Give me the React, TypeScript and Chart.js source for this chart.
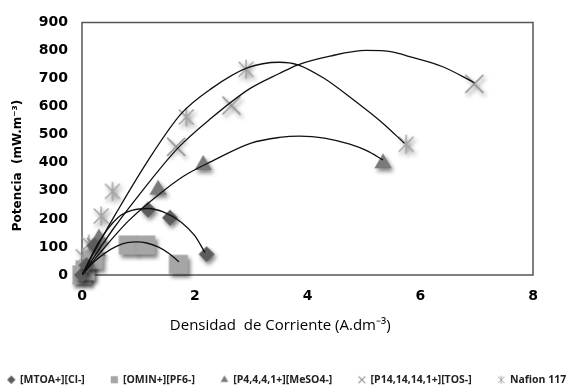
import React, { useEffect, useRef } from "react";
import { Chart, registerables } from "chart.js";

Chart.register(...registerables);

// ---------- data ----------
const seriesNames = [
  "[MTOA+][Cl-]",
  "[OMIN+][PF6-]",
  "[P4,4,4,1+][MeSO4-]",
  "[P14,14,14,1+][TOS-]",
  "Nafion 117",
];

const xTickStep = 2;
const xMin = 0;
const xMax = 8;
const yTickStep = 100;
const yMin = 0;
const yMax = 900;

// markers
const mtoaX = [0, 0.08, 0.22, 1.17, 1.56, 2.21];
const mtoaY = [0, 35, 105, 233, 204, 74];

const ominX = [0, 0.06, 0.2, 0.82, 1.13, 1.71];
const ominY = [0, 15, 55, 107, 107, 38];

const p444X = [0, 0.1, 0.3, 1.35, 2.15, 5.34];
const p444Y = [0, 40, 130, 304, 392, 398];

const tosX = [0, 0.05, 0.25, 1.67, 2.65, 6.96];
const tosY = [0, 20, 100, 457, 604, 681];

const nafionX = [0, 0.02, 0.12, 0.34, 0.54, 1.85, 2.91, 5.75];
const nafionY = [0, 65, 110, 210, 298, 563, 733, 466];

// trend lines
const mtoaTrendX = [0, 0.3, 0.64, 0.9, 1.17, 1.45, 1.76, 2.0, 2.18];
const mtoaTrendY = [0, 118, 205, 231, 237, 224, 188, 140, 80];

const ominTrendX = [0, 0.2, 0.4, 0.6, 0.8, 0.97, 1.15, 1.35, 1.55, 1.72];
const ominTrendY = [0, 44, 77, 101, 115, 118, 114, 100, 76, 47];

const p444TrendX = [0, 0.4, 0.82, 1.32, 1.8, 2.3, 3.0, 3.5, 3.86, 4.3, 4.75, 5.05, 5.34];
const p444TrendY = [0, 98, 192, 280, 352, 405, 470, 490, 495, 488, 466, 443, 410];

const tosTrendX = [0, 0.55, 1.0, 1.7, 2.3, 2.97, 3.5, 3.83, 4.4, 5.04, 5.5, 5.81, 6.4, 6.96];
const tosTrendY = [0, 163, 282, 452, 560, 663, 718, 749, 780, 800, 795, 778, 742, 685];

const nafionTrendX = [0, 0.31, 0.61, 1.14, 1.76, 2.3, 2.93, 3.5, 3.83, 4.3, 4.75, 5.34, 5.72];
const nafionTrendY = [0, 116, 222, 398, 575, 665, 738, 758, 749, 700, 634, 540, 469];

// ---------- helpers ----------
const pts = (xs: number[], ys: number[]) => xs.map((x, i) => ({ x, y: ys[i] }));

type Shape = "diamond" | "square" | "triangle" | "cross" | "star";

// marker glyph drawn on a small canvas (with a soft drop shadow) and used as pointStyle
function makeMarker(shape: Shape, color: string, size: number, withShadow: boolean) {
  const S = withShadow ? 34 : Math.ceil(size * 2 + 3);
  const c = document.createElement("canvas");
  c.width = S;
  c.height = S;
  const g = c.getContext("2d")!;
  const m = S / 2;
  if (withShadow) {
    g.shadowColor = "rgba(0,0,0,0.5)";
    g.shadowBlur = 4;
    g.shadowOffsetX = 2;
    g.shadowOffsetY = 3;
  }
  g.fillStyle = color;
  g.strokeStyle = color;
  g.beginPath();
  if (shape === "diamond") {
    g.moveTo(m, m - size);
    g.lineTo(m + size, m);
    g.lineTo(m, m + size);
    g.lineTo(m - size, m);
    g.closePath();
    g.fill();
  } else if (shape === "square") {
    g.rect(m - size, m - size, size * 2, size * 2);
    g.fill();
  } else if (shape === "triangle") {
    const h = size * Math.sqrt(3) / 2;
    g.moveTo(m, m - size);
    g.lineTo(m + h, m + size / 2);
    g.lineTo(m - h, m + size / 2);
    g.closePath();
    g.fill();
  } else if (shape === "cross") {
    g.lineWidth = withShadow ? 1.6 : 1.1;
    g.moveTo(m - size, m - size);
    g.lineTo(m + size, m + size);
    g.moveTo(m + size, m - size);
    g.lineTo(m - size, m + size);
    g.stroke();
  } else {
    g.lineWidth = withShadow ? 1.5 : 1;
    const d = size * 0.78;
    g.moveTo(m - d, m - d);
    g.lineTo(m + d, m + d);
    g.moveTo(m + d, m - d);
    g.lineTo(m - d, m + d);
    g.moveTo(m, m - size);
    g.lineTo(m, m + size);
    g.stroke();
  }
  return c;
}

const NB = "\u00A0";

export default function App() {
  const ref = useRef<HTMLCanvasElement | null>(null);

  useEffect(() => {
    if (!ref.current) return;

    const colors = ["#5c5c5c", "#a6a6a6", "#7a7a7a", "#8c8c8c", "#a3a3a3"];
    const shapes: Shape[] = ["diamond", "square", "triangle", "cross", "star"];
    const bigSizes = [8, 9.5, 10, 9, 9.5];
    const smallSizes = [4.2, 3.6, 4.4, 3.4, 4.2];

    const bigMarkers = shapes.map((s, i) => makeMarker(s, colors[i], bigSizes[i], true));
    const smallMarkers = shapes.map((s, i) => makeMarker(s, colors[i], smallSizes[i], false));

    const scatter = (i: number, xs: number[], ys: number[]) => ({
      label: seriesNames[i],
      data: pts(xs, ys),
      pointStyle: bigMarkers[i],
      pointRadius: 10,
      pointHoverRadius: 10,
      backgroundColor: colors[i],
      borderColor: colors[i],
      showLine: false,
      clip: false as any,
      order: 2,
    });

    const trend = (name: string, xs: number[], ys: number[]) => ({
      label: name,
      data: pts(xs, ys),
      showLine: true,
      pointRadius: 0,
      pointHoverRadius: 0,
      borderColor: "#111",
      borderWidth: 1.3,
      cubicInterpolationMode: "monotone" as const,
      fill: false,
      order: 1,
    });

    // plot-area frame traced along the axis limits
    const frame = {
      label: "frame",
      data: [
        { x: xMin, y: yMin },
        { x: xMax, y: yMin },
        { x: xMax, y: yMax },
        { x: xMin, y: yMax },
        { x: xMin, y: yMin },
      ],
      showLine: true,
      pointRadius: 0,
      pointHoverRadius: 0,
      borderColor: "#555555",
      borderWidth: 1.5,
      tension: 0,
      fill: false,
      clip: false as any,
      order: 3,
    };

    const OVER = 23; // lets the one-row legend use the whole canvas width

    const chart = new Chart(ref.current, {
      type: "scatter",
      data: {
        datasets: [
          scatter(0, mtoaX, mtoaY),
          scatter(1, ominX, ominY),
          scatter(2, p444X, p444Y),
          scatter(3, tosX, tosY),
          scatter(4, nafionX, nafionY),
          trend("t0", mtoaTrendX, mtoaTrendY),
          trend("t1", ominTrendX, ominTrendY),
          trend("t2", p444TrendX, p444TrendY),
          trend("t3", tosTrendX, tosTrendY),
          trend("t4", nafionTrendX, nafionTrendY),
          frame,
        ] as any,
      },
      options: {
        animation: false,
        responsive: false,
        maintainAspectRatio: false,
        events: [],
        layout: { padding: { top: 18, left: -OVER, right: -OVER, bottom: -4 } },
        plugins: {
          tooltip: { enabled: false },
          legend: {
            display: true,
            position: "bottom",
            labels: {
              usePointStyle: true,
              boxWidth: 7,
              boxHeight: 7,
              padding: 26,
              color: "#222",
              font: { family: "'Open Sans'", size: 10.5, weight: "bold" },
              generateLabels: (c: any) =>
                c.data.datasets.slice(0, 5).map((ds: any, i: number) => ({
                  text: ds.label,
                  fillStyle: ds.backgroundColor,
                  strokeStyle: ds.borderColor,
                  lineWidth: 1,
                  pointStyle: smallMarkers[i],
                  hidden: false,
                  datasetIndex: i,
                  fontColor: "#222",
                })),
            },
          },
        },
        scales: {
          x: {
            type: "linear",
            min: xMin,
            max: xMax,
            grid: { display: false, drawTicks: false },
            border: { display: false },
            afterFit: (s: any) => {
              s.height = 73.5;
            },
            ticks: {
              stepSize: xTickStep,
              padding: 12.5,
              color: "#000",
              font: { family: "'DejaVu Sans'", size: 14, weight: "bold" },
            },
            title: {
              display: true,
              text: "Densidad  de Corriente (A.dm\u207B\u00B3)" + NB.repeat(14),
              color: "#000",
              font: { family: "'Open Sans'", size: 15 },
              padding: { top: 0, bottom: 14 },
            },
          },
          y: {
            type: "linear",
            min: yMin,
            max: yMax,
            grid: { display: false, drawTicks: false },
            border: { display: false },
            afterFit: (s: any) => {
              s.width = 82 + OVER;
            },
            ticks: {
              stepSize: yTickStep,
              padding: 14,
              color: "#000",
              font: { family: "'DejaVu Sans'", size: 14, weight: "bold" },
            },
            title: {
              display: true,
              text: "Potencia  (mW.m\u207B\u00B3)" + NB.repeat(8),
              color: "#000",
              font: { family: "'DejaVu Sans'", size: 12, weight: "bold" },
              padding: { top: 11 + OVER, bottom: 0 },
            },
          },
          yR: {
            type: "linear",
            position: "right",
            display: true,
            min: yMin,
            max: yMax,
            grid: { display: false, drawTicks: false },
            border: { display: false },
            ticks: { display: false },
            afterFit: (s: any) => {
              s.width = 41 + OVER;
            },
          },
        },
      } as any,
    });

    return () => chart.destroy();
  }, []);

  return (
    <div style={{ position: "absolute", left: 0, top: 0, width: 574, height: 391, background: "#fff" }}>
      <canvas ref={ref} width={574} height={391} style={{ width: 574, height: 391, display: "block" }} />
    </div>
  );
}
